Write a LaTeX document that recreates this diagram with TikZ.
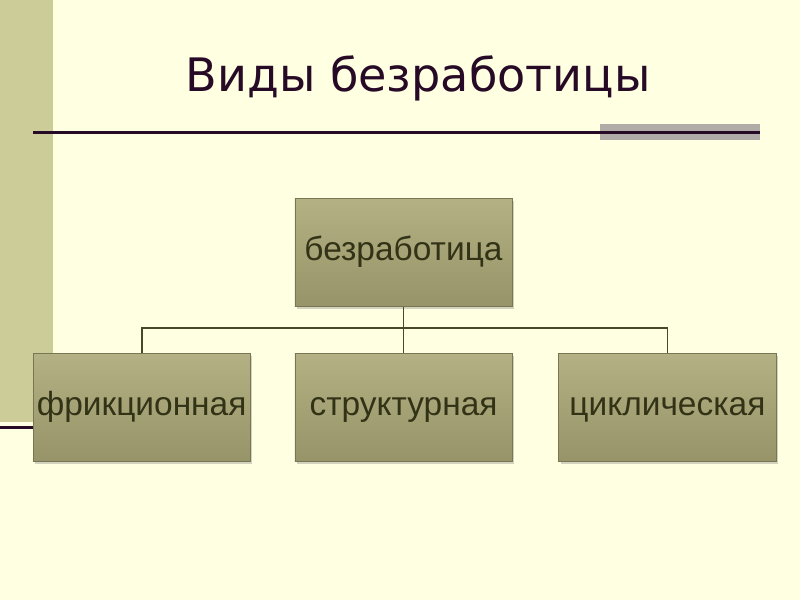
\documentclass[tikz,border=0pt]{standalone}
\usepackage{fontspec}
\setmainfont{Liberation Sans}
\newfontfamily\titlefont{DejaVu Sans}
\usetikzlibrary{positioning, calc, shadows}
\definecolor{slidebg}{RGB}{255,255,226}
\definecolor{bandcol}{RGB}{204,204,153}
\definecolor{titlecol}{RGB}{38,10,38}
\definecolor{greybar}{RGB}{178,172,168}
\definecolor{boxtop}{RGB}{180,178,132}
\definecolor{boxbot}{RGB}{150,148,104}
\definecolor{boxtext}{RGB}{50,50,22}
\definecolor{linkcol}{RGB}{72,72,40}
\tikzstyle{kind} = [rectangle, minimum width=5.425cm, minimum height=2.7cm, inner xsep=0pt, text height=17pt, text depth=5pt, align=center, draw=boxbot!80!black, line width=0.6pt, top color=boxtop, bottom color=boxbot, text=boxtext, font=\fontsize{23.8}{27}\selectfont, drop shadow={shadow xshift=0.5mm, shadow yshift=-0.6mm, opacity=0.35}]
\tikzstyle{link} = [linkcol, line width=1.3pt]

\begin{document}
\begin{tikzpicture}[x=0.025cm, y=-0.025cm]

% Slide background
\fill[slidebg] (0,0) rectangle (800,600);
\useasboundingbox (0,0) rectangle (800,600);
\fill[bandcol] (0,0) rectangle (53,422);
\fill[titlecol] (0,425.5) rectangle (60,429);
\fill[greybar] (600,124) rectangle (760,140);
\fill[titlecol] (33,131) rectangle (760,133.5);

% Title
\node (title) [text=titlecol, font=\titlefont\fontsize{32.8}{38}\selectfont] at (418,78) {Виды безработицы};

% Top node
\node (unemp) [kind] at (403.5,252.5) {безработица};

% Kinds
\node (struct) [kind, below=1.15cm of unemp] {структурная};
\node (frict) [kind, left=1.1cm of struct] {фрикционная};
\node (cycl) [kind, right=1.15cm of struct] {циклическая};

% Connectors
\coordinate (fork) at ($(unemp.south)+(0,21)$);
\draw [link] (unemp.south) -- (fork);
\draw [link] (fork) -| (frict.north);
\draw [link] (fork) -- (struct.north);
\draw [link] (fork) -| (cycl.north);

\end{tikzpicture}
\end{document}
